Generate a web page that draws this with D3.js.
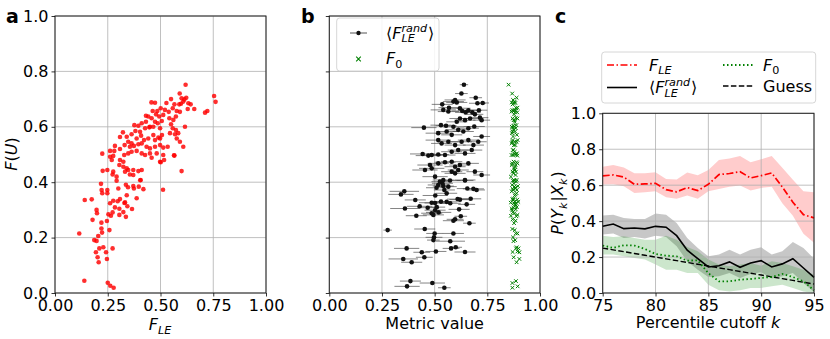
<!DOCTYPE html>
<html>
<head>
<meta charset="utf-8">
<script src="https://cdn.jsdelivr.net/npm/d3@7"></script>
<style>
  body { margin: 0; background: #fff; }
  text { font-family: "DejaVu Sans", sans-serif; fill: #000; }
</style>
</head>
<body>
<svg id="fig" width="830" height="339"></svg>
<script>
// ---- panel a: [F_LE, F(U)] per point
const pointsA = [
  [.218,.394],[.141,.336],[.174,.338],[.221,.372],[.224,.360],[.248,.372],[.248,.360],[.261,.324],
  [.197,.300],[.199,.288],[.178,.264],[.220,.254],[.246,.260],[.220,.233],[.223,.218],[.258,.227],
  [.115,.215],[.205,.206],[.186,.191],[.197,.188],[.229,.165],[.210,.161],[.273,.161],[.194,.147],
  [.242,.147],[.202,.129],[.246,.123],[.207,.111],[.139,.044],[.250,.037],[.262,.026],[.278,.019],
  [.292,.405],[.336,.391],[.346,.382],[.371,.386],[.374,.377],[.397,.384],[.419,.375],[.404,.407],
  [.512,.373],[.300,.377],[.340,.353],[.387,.342],[.276,.333],[.297,.331],[.308,.339],[.332,.327],
  [.329,.325],[.284,.309],[.305,.304],[.343,.313],[.365,.303],[.253,.284],[.265,.279],[.273,.291],
  [.324,.292],[.305,.282],[.336,.275],[.226,.441],[.600,.440],[.498,.474],
  [.619,.752],[.591,.720],[.600,.703],[.613,.699],[.622,.705],[.608,.691],[.597,.683],[.589,.681],
  [.632,.685],[.643,.681],[.629,.664],[.660,.664],[.754,.711],[.761,.690],[.711,.651],[.722,.657],
  [.550,.700],[.566,.681],[.558,.667],[.577,.657],[.592,.654],[.457,.688],[.474,.687],[.528,.686],
  [.501,.667],[.485,.657],[.463,.657],[.521,.661],[.539,.654],[.479,.645],[.494,.637],[.513,.643],
  [.542,.631],[.561,.625],[.573,.637],[.458,.631],[.442,.637],[.431,.640],[.474,.618],[.487,.613],
  [.506,.621],[.616,.600],[.550,.609],[.558,.595],[.573,.588],[.545,.577],[.569,.573],[.577,.558],
  [.584,.577],[.498,.595],[.507,.570],[.498,.558],[.466,.600],[.447,.598],[.431,.618],[.411,.613],
  [.395,.604],[.592,.546],[.608,.528],[.534,.528],[.566,.496],[.322,.580],[.308,.563],[.340,.564],
  [.363,.573],[.381,.585],[.403,.582],[.427,.595],[.450,.600],[.376,.606],[.387,.558],[.408,.568],
  [.422,.552],[.442,.558],[.466,.570],[.474,.552],[.490,.561],[.347,.546],[.363,.540],[.374,.531],
  [.395,.537],[.411,.540],[.434,.528],[.450,.522],[.474,.528],[.498,.534],[.513,.525],[.330,.534],
  [.355,.528],[.284,.531],[.281,.513],[.308,.520],[.261,.513],[.224,.503],[.328,.498],[.347,.504],
  [.363,.510],[.387,.513],[.411,.504],[.427,.498],[.458,.488],[.450,.504],[.482,.504],[.513,.498],
  [.517,.480],[.501,.472],[.564,.497],[.261,.492],[.276,.495],[.269,.480],[.308,.480],[.324,.474],
  [.305,.462],[.324,.456],[.340,.450],[.355,.428],[.332,.438],[.347,.444],[.371,.444],[.395,.440],
  [.411,.444],[.406,.408],[.371,.426],[.292,.420],[.273,.428],[.248,.444],[.276,.438]
];

// ---- panel b: [<F_LE rand>, F(U), error, F0] per point
const pointsB = [
  [.546,.019,.03,.869],[.369,.024,.06,.894],[.385,.043,.05,.886],[.489,.036,.06,.869],
  [.277,.227,.02,.880],[.453,.231,.05,.869],[.589,.215,.05,.893],[.500,.215,.04,.885],
  [.497,.201,.04,.872],[.494,.191,.03,.882],[.574,.187,.07,.874],[.367,.161,.06,.886],
  [.439,.147,.04,.902],[.451,.129,.04,.875],[.506,.150,.05,.893],[.578,.161,.04,.898],
  [.600,.165,.03,.889],[.644,.148,.05,.870],[.351,.123,.07,.902],[.391,.111,.05,.889],
  [.665,.252,.03,.877],[.589,.261,.05,.884],[.597,.266,.04,.870],[.624,.277,.03,.888],
  [.413,.279,.05,.862],[.486,.288,.05,.879],[.494,.282,.05,.893],[.519,.291,.06,.871],
  [.616,.302,.05,.885],[.359,.305,.07,.866],[.429,.313,.06,.880],[.467,.308,.05,.874],
  [.510,.310,.04,.890],[.502,.299,.05,.868],[.652,.320,.04,.883],[.574,.324,.05,.876],
  [.557,.329,.05,.897],[.408,.336,.05,.872],[.486,.326,.06,.861],[.502,.325,.05,.887],
  [.530,.330,.05,.879],[.609,.339,.05,.869],[.620,.337,.05,.892],[.671,.340,.05,.874],
  [.340,.356,.06,.884],[.356,.367,.07,.866],[.503,.352,.06,.880],[.557,.360,.05,.889],
  [.546,.372,.05,.873],[.565,.384,.04,.878],[.541,.386,.05,.895],[.517,.390,.05,.868],
  [.509,.380,.05,.882],[.537,.396,.05,.876],[.525,.402,.04,.887],[.573,.406,.05,.871],
  [.644,.406,.04,.879],[.655,.377,.05,.884],[.684,.376,.05,.870],[.699,.372,.04,.890],
  [.639,.752,.02,.851],[.627,.720,.03,.868],[.597,.697,.05,.872],[.589,.691,.05,.880],
  [.605,.688,.05,.866],[.695,.705,.03,.889],[.703,.685,.04,.876],[.728,.686,.03,.883],
  [.536,.681,.05,.870],[.568,.669,.05,.893],[.541,.661,.06,.878],[.565,.655,.05,.865],
  [.620,.667,.05,.887],[.631,.657,.05,.874],[.647,.652,.05,.881],[.660,.660,.05,.869],
  [.679,.652,.04,.892],[.691,.645,.04,.877],[.710,.660,.04,.884],[.449,.597,.06,.871],
  [.530,.606,.05,.888],[.554,.604,.05,.873],[.589,.600,.05,.866],[.605,.618,.05,.880],
  [.620,.630,.05,.893],[.644,.624,.05,.875],[.668,.630,.05,.870],[.715,.633,.04,.886],
  [.723,.624,.04,.879],[.517,.577,.06,.867],[.557,.583,.05,.882],[.581,.571,.05,.890],
  [.612,.589,.05,.874],[.636,.583,.05,.869],[.660,.595,.05,.885],[.688,.601,.05,.878],
  [.723,.565,.04,.872],[.517,.552,.06,.894],[.533,.540,.05,.866],[.565,.546,.05,.881],
  [.597,.534,.05,.876],[.628,.546,.05,.889],[.660,.552,.05,.870],[.684,.534,.05,.883],
  [.707,.546,.04,.868],[.443,.502,.06,.879],[.470,.496,.06,.892],[.486,.498,.05,.873],
  [.517,.500,.05,.886],[.549,.498,.05,.865],[.581,.510,.05,.880],[.612,.516,.05,.874],
  [.644,.504,.05,.890],[.676,.516,.05,.871],[.478,.462,.06,.884],[.486,.450,.06,.877],
  [.517,.468,.05,.868],[.549,.472,.05,.888],[.581,.474,.05,.875],[.597,.456,.05,.882],
  [.620,.462,.05,.866],[.660,.468,.05,.893],[.454,.444,.06,.879],[.691,.438,.04,.870],
  [.581,.438,.05,.886],[.597,.432,.05,.873],[.612,.444,.05,.881],[.502,.420,.06,.862],
  [.541,.408,.05,.889],[.644,.408,.05,.876],[.723,.426,.04,.884]
];

// ---- panel c
const cutoffs  = [75,76,77,78,79,80,81,82,83,84,85,86,87,88,89,90,91,92,93,94,95];
const fleMean  = [.652,.657,.645,.605,.607,.610,.575,.563,.587,.570,.605,.659,.665,.675,.640,.653,.668,.590,.505,.436,.418];
const fleLo    = [.604,.605,.594,.557,.561,.566,.533,.524,.542,.524,.566,.579,.591,.598,.570,.585,.591,.500,.430,.330,.280];
const fleHi    = [.703,.712,.699,.666,.666,.672,.634,.632,.670,.655,.684,.740,.749,.762,.727,.744,.762,.697,.630,.566,.560];
const randMean = [.371,.384,.358,.362,.357,.371,.366,.319,.238,.191,.145,.152,.173,.143,.167,.180,.145,.162,.191,.139,.087];
const randLo   = [.325,.331,.306,.312,.303,.319,.312,.260,.176,.130,.089,.093,.111,.084,.106,.115,.080,.093,.111,.056,.005];
const randHi   = [.431,.436,.418,.412,.412,.442,.436,.390,.306,.251,.204,.214,.241,.214,.241,.254,.214,.232,.284,.251,.191];
const f0Mean   = [.264,.251,.266,.264,.245,.217,.208,.204,.180,.182,.110,.065,.065,.074,.078,.084,.089,.106,.089,.065,.015];
const f0Lo     = [.214,.214,.204,.195,.186,.158,.130,.130,.111,.111,.046,.015,.009,.015,.028,.028,.037,.046,.028,.009,.000];
const f0Hi     = [.319,.312,.316,.306,.297,.297,.319,.297,.256,.232,.186,.158,.149,.158,.167,.152,.176,.167,.149,.130,.102];
const guess    = [.25,.24,.23,.22,.21,.20,.19,.18,.17,.16,.15,.14,.13,.12,.11,.10,.09,.08,.07,.06,.05];

const ticks01 = [0, 0.25, 0.5, 0.75, 1.0];
const ticksY  = [0, 0.2, 0.4, 0.6, 0.8, 1.0];
const ticksK  = [75, 80, 85, 90, 95];

const FS = 16;
const svg = d3.select("#fig");

// text with sub/superscripts, built piece by piece
function mathText(parent, x, y, segs, opt) {
    opt = opt || {};
    const size = opt.size || FS;
    const g = parent.append("g");
    let cx = 0;
    segs.forEach(function(s) {
        if (s.sub !== undefined || s.sup !== undefined) {
            let w = 0;
            if (s.sup !== undefined) {
                const t = g.append("text").attr("x", cx).attr("y", -0.42 * size)
                    .attr("font-size", 0.7 * size).attr("font-style", "italic").text(s.sup);
                w = Math.max(w, t.node().getComputedTextLength());
            }
            if (s.sub !== undefined) {
                const t = g.append("text").attr("x", cx).attr("y", 0.24 * size)
                    .attr("font-size", 0.7 * size).attr("font-style", s.subUp ? "normal" : "italic").text(s.sub);
                w = Math.max(w, t.node().getComputedTextLength());
            }
            cx += w + 1;
        } else {
            const t = g.append("text").attr("x", cx).attr("y", 0)
                .attr("font-size", size).attr("font-style", s.it ? "italic" : "normal")
                .attr("xml:space", "preserve").text(s.t);
            cx += t.node().getComputedTextLength();
        }
    });
    const dx = opt.anchor === "middle" ? -cx / 2 : (opt.anchor === "end" ? -cx : 0);
    g.attr("transform", "translate(" + x + "," + y + ")" + (opt.rotate ? " rotate(" + opt.rotate + ")" : "") + " translate(" + dx + ",0)");
    return g;
}

function makePanel(p) {
    const x = d3.scaleLinear().domain(p.xDomain).range([p.x0, p.x1]);
    const y = d3.scaleLinear().domain(p.yDomain).range([p.y1, p.y0]);
    const g = svg.append("g");

    const grid = g.append("g").attr("stroke", "#b0b0b0").attr("stroke-width", 0.8);
    p.xTicks.forEach(function(t) {
        grid.append("line").attr("x1", x(t)).attr("x2", x(t)).attr("y1", p.y0).attr("y2", p.y1);
    });
    p.yTicks.forEach(function(t) {
        grid.append("line").attr("x1", p.x0).attr("x2", p.x1).attr("y1", y(t)).attr("y2", y(t));
    });

    const plot = g.append("g");
    const front = g.append("g");

    front.append("rect").attr("x", p.x0).attr("y", p.y0)
        .attr("width", p.x1 - p.x0).attr("height", p.y1 - p.y0)
        .attr("fill", "none").attr("stroke", "#222").attr("stroke-width", 1);

    const xAxis = front.append("g").attr("transform", "translate(0," + p.y1 + ")")
        .call(d3.axisBottom(x).tickValues(p.xTicks).tickFormat(p.xFmt).tickSize(3.5).tickPadding(3.5));
    const yAxis = front.append("g").attr("transform", "translate(" + p.x0 + ",0)")
        .call(d3.axisLeft(y).tickValues(p.yTicks).tickFormat(p.yFmt ? p.yFmt : "").tickSize(3.5).tickPadding(3));
    [xAxis, yAxis].forEach(function(a) {
        a.select(".domain").remove();
        a.selectAll("line").attr("stroke", "#000").attr("stroke-width", 0.8);
        a.selectAll("text").attr("font-size", FS).attr("font-family", "DejaVu Sans");
    });
    return { g: g, plot: plot, x: x, y: y };
}

// ===== panel a
const pa = makePanel({ x0: 55, x1: 266, y0: 16, y1: 293, xDomain: [0, 1], yDomain: [0, 1],
    xTicks: ticks01, yTicks: ticksY, xFmt: d3.format(".2f"), yFmt: d3.format(".1f") });
pa.plot.selectAll("circle").data(pointsA).enter().append("circle")
    .attr("cx", function(d) { return pa.x(d[0]); })
    .attr("cy", function(d) { return pa.y(d[1]); })
    .attr("r", 2.3).attr("fill", "#ff0000").attr("fill-opacity", 0.82);

svg.append("text").attr("x", 6).attr("y", 23).attr("font-size", 19).attr("font-weight", "bold").text("a");
mathText(svg, 160.5, 330, [{ t: "F", it: true }, { sub: "LE" }], { anchor: "middle" });
mathText(svg, 17, 154, [{ t: "F", it: true }, { t: "(" }, { t: "U", it: true }, { t: ")" }], { anchor: "middle", rotate: -90 });

// ===== panel b
const pb = makePanel({ x0: 329.3, x1: 540, y0: 16, y1: 293, xDomain: [0, 1], yDomain: [0, 1],
    xTicks: ticks01, yTicks: ticksY, xFmt: d3.format(".2f"), yFmt: null });

pb.plot.append("g").selectAll("line").data(pointsB).enter().append("line")
    .attr("x1", function(d) { return pb.x(d[0] - d[2]); })
    .attr("x2", function(d) { return pb.x(d[0] + d[2]); })
    .attr("y1", function(d) { return pb.y(d[1]); })
    .attr("y2", function(d) { return pb.y(d[1]); })
    .attr("stroke", "#444").attr("stroke-opacity", 0.65).attr("stroke-width", 1);
pb.plot.append("g").selectAll("circle").data(pointsB).enter().append("circle")
    .attr("cx", function(d) { return pb.x(d[0]); })
    .attr("cy", function(d) { return pb.y(d[1]); })
    .attr("r", 2.3).attr("fill", "#111");

const xMark = function(cx, cy, s) {
    return "M" + (cx - s) + "," + (cy - s) + "L" + (cx + s) + "," + (cy + s) +
        "M" + (cx - s) + "," + (cy + s) + "L" + (cx + s) + "," + (cy - s);
};
pb.plot.append("path")
    .attr("d", pointsB.map(function(d) { return xMark(pb.x(d[3]), pb.y(d[1]), 1.8); }).join(""))
    .attr("stroke", "#008000").attr("stroke-width", 1).attr("fill", "none");

// legend b
const lb = svg.append("g");
lb.append("rect").attr("x", 336.7).attr("y", 18).attr("width", 102.3).attr("height", 53).attr("rx", 3)
    .attr("fill", "#fff").attr("fill-opacity", 0.85).attr("stroke", "#ccc").attr("stroke-width", 0.8);
lb.append("line").attr("x1", 350).attr("x2", 367).attr("y1", 33).attr("y2", 33).attr("stroke", "#555").attr("stroke-width", 1);
lb.append("circle").attr("cx", 358.5).attr("cy", 33).attr("r", 2.2).attr("fill", "#111");
lb.append("path").attr("d", xMark(358.5, 59, 2.3)).attr("stroke", "#008000").attr("stroke-width", 1.1);
mathText(lb, 386, 38.5, [{ t: "⟨" }, { t: "F", it: true }, { sup: "rand", sub: "LE" }, { t: "⟩" }]);
mathText(lb, 386, 64, [{ t: "F", it: true }, { sub: "0", subUp: true }]);

svg.append("text").attr("x", 301).attr("y", 23).attr("font-size", 19).attr("font-weight", "bold").text("b");
svg.append("text").attr("x", 434.6).attr("y", 329).attr("font-size", FS).attr("text-anchor", "middle").text("Metric value");

// ===== panel c
const pc = makePanel({ x0: 602.7, x1: 814, y0: 113.3, y1: 293, xDomain: [75, 95], yDomain: [0, 1],
    xTicks: ticksK, yTicks: ticksY, xFmt: d3.format("d"), yFmt: d3.format(".1f") });

const band = function(lo, hi) {
    return d3.area().x(function(d, i) { return pc.x(cutoffs[i]); })
        .y0(function(d, i) { return pc.y(lo[i]); })
        .y1(function(d, i) { return pc.y(hi[i]); })(cutoffs);
};
const lineOf = function(vals) {
    return d3.line().x(function(d, i) { return pc.x(cutoffs[i]); })
        .y(function(d) { return pc.y(d); })(vals);
};

// fills go below the grid in matplotlib, so put them before the grid
const fills = pc.g.insert("g", ":first-child");
fills.append("path").attr("d", band(fleLo, fleHi)).attr("fill", "#ff0000").attr("fill-opacity", 0.2);
fills.append("path").attr("d", band(randLo, randHi)).attr("fill", "#000").attr("fill-opacity", 0.22);
fills.append("path").attr("d", band(f0Lo, f0Hi)).attr("fill", "#008000").attr("fill-opacity", 0.2);

pc.plot.append("path").attr("d", lineOf(guess)).attr("fill", "none")
    .attr("stroke", "#000").attr("stroke-width", 1.4).attr("stroke-dasharray", "5.5,2.4");
pc.plot.append("path").attr("d", lineOf(f0Mean)).attr("fill", "none")
    .attr("stroke", "#008000").attr("stroke-width", 1.8).attr("stroke-dasharray", "1.5,2.5");
pc.plot.append("path").attr("d", lineOf(randMean)).attr("fill", "none")
    .attr("stroke", "#000").attr("stroke-width", 1.6);
pc.plot.append("path").attr("d", lineOf(fleMean)).attr("fill", "none")
    .attr("stroke", "#ff0000").attr("stroke-width", 1.7).attr("stroke-dasharray", "7,2.5,1.5,2.5");

// legend c
const lc = svg.append("g");
lc.append("rect").attr("x", 601.7).attr("y", 52).attr("width", 214).attr("height", 51).attr("rx", 3)
    .attr("fill", "#fff").attr("stroke", "#ccc").attr("stroke-width", 0.8);
lc.append("line").attr("x1", 607).attr("x2", 637).attr("y1", 65).attr("y2", 65)
    .attr("stroke", "#ff0000").attr("stroke-width", 1.7).attr("stroke-dasharray", "7,2.5,1.5,2.5");
lc.append("line").attr("x1", 607).attr("x2", 637).attr("y1", 87.5).attr("y2", 87.5)
    .attr("stroke", "#000").attr("stroke-width", 1.6);
lc.append("line").attr("x1", 723).attr("x2", 753).attr("y1", 65).attr("y2", 65)
    .attr("stroke", "#008000").attr("stroke-width", 1.8).attr("stroke-dasharray", "1.5,2.5");
lc.append("line").attr("x1", 723).attr("x2", 753).attr("y1", 86).attr("y2", 86)
    .attr("stroke", "#000").attr("stroke-width", 1.4).attr("stroke-dasharray", "5.5,2.4");
mathText(lc, 649, 70.5, [{ t: "F", it: true }, { sub: "LE" }]);
mathText(lc, 649, 93, [{ t: "⟨" }, { t: "F", it: true }, { sup: "rand", sub: "LE" }, { t: "⟩" }]);
mathText(lc, 763, 70.5, [{ t: "F", it: true }, { sub: "0", subUp: true }]);
lc.append("text").attr("x", 763).attr("y", 91.7).attr("font-size", FS).text("Guess");

svg.append("text").attr("x", 555).attr("y", 23).attr("font-size", 19).attr("font-weight", "bold").text("c");
mathText(svg, 708, 328, [{ t: "Percentile cutoff " }, { t: "k", it: true }], { anchor: "middle" });
mathText(svg, 563, 203, [{ t: "P", it: true }, { t: "(" }, { t: "Y", it: true }, { sub: "k" },
    { t: "|" }, { t: "X", it: true }, { sub: "k" }, { t: ")" }], { anchor: "middle", rotate: -90 });
</script>
</body>
</html>
